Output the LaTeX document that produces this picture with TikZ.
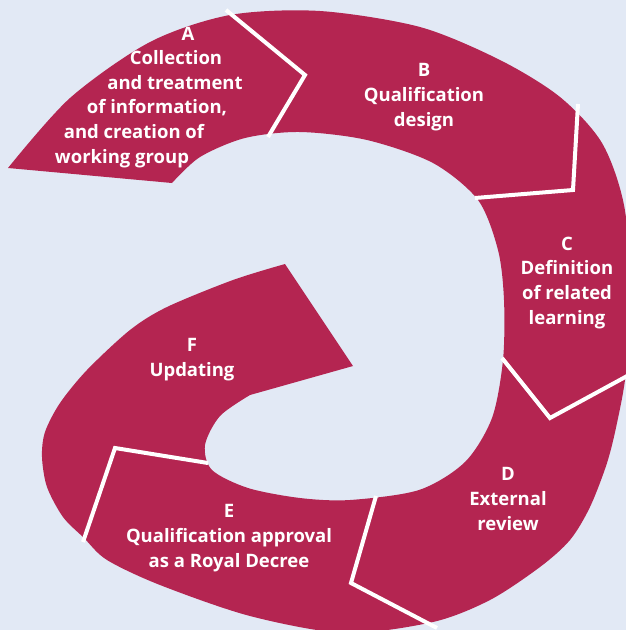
\documentclass[tikz,border=0pt]{standalone}
\usepackage{fontspec}
\setmainfont{Open Sans}
\definecolor{wine}{HTML}{B42551}
\definecolor{paper}{HTML}{E2E9F5}
\tikzset{
  stage/.style={text=white, font=\bfseries\fontsize{18.5}{24.6}\selectfont, align=center, inner sep=0pt, anchor=base},
  divider/.style={draw=white, line width=4pt, line join=miter}
}

\begin{document}
\begin{tikzpicture}[x=1pt, y=-1pt]
\fill[paper] (0,0) rectangle (626,630);
\useasboundingbox (0,0) rectangle (626,630);
\clip (0,0) rectangle (626,630);

% spiral band
\fill[wine] plot[smooth, tension=0.5] coordinates {
  (8,168) (70,98) (150,42) (230,15) (320,11) (420,27) (500,60) (560,97)
  (602,143) (624,205) (631,290) (626,372) (617,423) (607,463) (590,507)
  (570,540) (540,567) (490,600) (433,622) (345,633) (250,616) (160,585)
  (107,560) (84,538) (63,517) (47,487) (42,457) (45,432) (60,403) (87,370)
  (130,330) (167,307) (233,280) (285,264)}
  -- (353,366)
  -- plot[smooth, tension=0.5] coordinates {
  (250,395) (220,416) (205,445) (212,470) (248,488) (300,498) (350,500)
  (419,490) (465,462) (492,418) (503,360) (504,300) (498,250) (478,200)
  (433,163) (367,140) (300,132) (245,138) (200,157) (172,183)}
  -- cycle;

% white cuts between the stages
\draw[divider] (268,137) -- (305,75) -- (226,10);
\draw[divider] (475,198) -- (573,190) -- (578,104);
\draw[divider] (502,358) -- (550,418) -- (640,369);
\draw[divider] (376,496) -- (351,583) -- (437,628);
\draw[divider] (208,463) -- (115,448) -- (83,542);

% labels
\foreach \t/\x/\y [count=\i] in {A/188/40, Collection/176/64, and treatment/175/89,
    {of information,}/157/113, and creation of/134/138, working group/122/163}
  \node[stage] (a\i) at (\x,\y) {\t};
\node[stage] (b) at (424,126) {B\\Qualification\\design};
\node[stage] (c) at (567,324) {C\\Definition\\of related\\learning};
\node[stage] (d) at (508,530) {D\\External\\review};
\node[stage] (e) at (229,567) {E\\Qualification approval\\as a Royal Decree};
\node[stage] (f) at (192,376) {F\\Updating};
\end{tikzpicture}
\end{document}
